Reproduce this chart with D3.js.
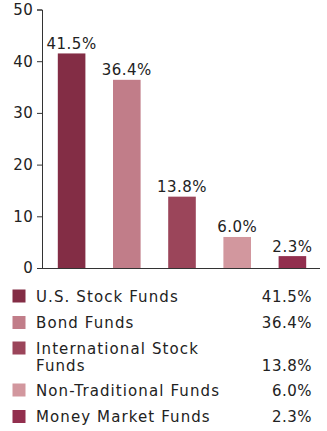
<!DOCTYPE html>
<html><head><meta charset="utf-8">
<script src="https://cdn.jsdelivr.net/npm/d3@7"></script>
<style>body{margin:0;background:#fff}svg{display:block}text{font-family:"DejaVu Sans",Verdana,sans-serif;fill:#222}</style>
</head><body>
<script>
const categories = ["U.S. Stock Funds","Bond Funds","International Stock Funds","Non-Traditional Funds","Money Market Funds"];
const values = [41.5,36.4,13.8,6.0,2.3];
const colors = ["#832d45","#c17d89","#9b455a","#d2979e","#922f4e"];
const yTicks = [0,10,20,30,40,50];
const legendLines = [["U.S. Stock Funds"],["Bond Funds"],["International Stock","Funds"],["Non-Traditional Funds"],["Money Market Funds"]];

const W=327,H=431;
const svg=d3.select("body").append("svg").attr("width",W).attr("height",H);
const x=d3.scaleBand().domain(categories).range([44,320]).paddingInner(0.5).paddingOuter(0.25);
const y=d3.scaleLinear().domain([0,50]).range([268,9.5]);

const ya=svg.append("g").attr("transform","translate(42,0)")
  .call(d3.axisLeft(y).tickValues(yTicks).tickSize(5).tickPadding(4));
ya.select(".domain").attr("stroke","#333");
ya.selectAll(".tick line").attr("stroke","#333");
ya.selectAll("text").attr("font-size",15).attr("fill","#222").style("font-family","DejaVu Sans, Verdana, sans-serif").style("letter-spacing","0.3px");

svg.selectAll("rect.bar").data(values).join("rect").attr("class","bar")
  .attr("x",(d,i)=>x(categories[i])).attr("width",x.bandwidth())
  .attr("y",d=>y(d)).attr("height",d=>y(0)-y(d)).attr("fill",(d,i)=>colors[i]);

svg.selectAll("text.lbl").data(values).join("text").attr("class","lbl")
  .attr("x",(d,i)=>x(categories[i])+x.bandwidth()/2).attr("y",d=>y(d)-4.5)
  .attr("text-anchor","middle").attr("font-size",15).style("letter-spacing","0.5px").text(d=>d.toFixed(1)+"%");

svg.append("line").attr("x1",42).attr("x2",320).attr("y1",268.5).attr("y2",268.5).attr("stroke","#333");

const rowY=[296,322.5,348,390,416.5];
const lg=svg.append("g");
legendLines.forEach((lines,i)=>{
  lg.append("rect").attr("x",12.5).attr("y",rowY[i]-6.5).attr("width",13).attr("height",13).attr("fill",colors[i]);
  const t=lg.append("text").attr("x",36).attr("y",rowY[i]+5.5).attr("font-size",15).style("letter-spacing","1.1px");
  lines.forEach((l,j)=>t.append("tspan").attr("x",36).attr("dy",j?17:0).text(l));
  lg.append("text").attr("x",312).attr("y",rowY[i]+5.5+(lines.length-1)*17).attr("text-anchor","end").attr("font-size",15).style("letter-spacing","0.5px").text(values[i].toFixed(1)+"%");
});
</script>
</body></html>
